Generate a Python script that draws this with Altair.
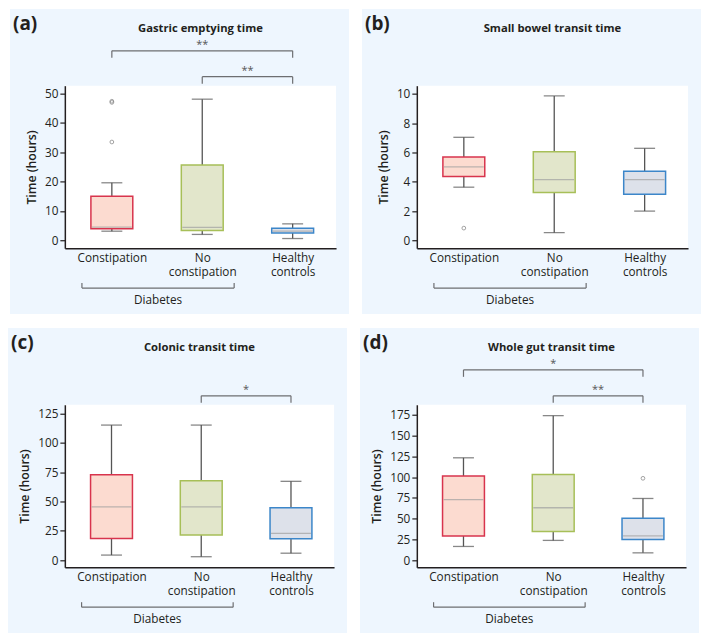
import altair as alt
import pandas as pd

FONT = "Open Sans"
INK = "#231f20"
PANEL_BG = "#eef6fe"

groups = ["Constipation", "No constipation", "Healthy controls"]
x_domain = ["Constipation", "mid1", "No constipation", "mid2", "Healthy controls"]
fills = ["#fcdbd0", "#e2e6cb", "#dde1ea"]
strokes = ["#d8344d", "#a7bf58", "#3c86c9"]

panel_letters = ["(a)", "(b)", "(c)", "(d)"]
panel_titles = ["Gastric emptying time", "Small bowel transit time",
                "Colonic transit time", "Whole gut transit time"]

# (a) Gastric emptying time
a_low = [3.1, 2.0, 0.6]
a_q1 = [3.9, 3.3, 2.5]
a_med = [4.5, 4.4, 3.1]
a_q3 = [15.0, 25.7, 4.1]
a_high = [19.6, 48.1, 5.6]
a_out_group = ["Constipation", "Constipation", "Constipation"]
a_out_value = [47.0, 47.4, 33.5]
a_ticks = [0, 10, 20, 30, 40, 50]
a_domain = [-2.7, 52.7]
a_sig_from = ["Constipation", "No constipation"]
a_sig_to = ["Healthy controls", "Healthy controls"]
a_sig_mid = ["No constipation", "mid2"]
a_sig_label = ["**", "**"]
a_sig_level = ["upper", "lower"]

# (b) Small bowel transit time
b_low = [3.63, 0.53, 2.0]
b_q1 = [4.36, 3.26, 3.15]
b_med = [5.02, 4.14, 4.14]
b_q3 = [5.68, 6.04, 4.71]
b_high = [7.03, 9.85, 6.28]
b_out_group = ["Constipation"]
b_out_value = [0.84]
b_ticks = [0, 2, 4, 6, 8, 10]
b_domain = [-0.53, 10.55]
b_sig_from, b_sig_to, b_sig_mid, b_sig_label, b_sig_level = [], [], [], [], []

# (c) Colonic transit time
c_low = [4.4, 3.0, 6.0]
c_q1 = [18.6, 21.4, 18.4]
c_med = [45.5, 45.5, 22.8]
c_q3 = [72.9, 67.7, 44.7]
c_high = [115.1, 115.1, 67.2]
c_out_group = []
c_out_value = []
c_ticks = [0, 25, 50, 75, 100, 125]
c_domain = [-6.0, 132.4]
c_sig_from = ["No constipation"]
c_sig_to = ["Healthy controls"]
c_sig_mid = ["mid2"]
c_sig_label = ["*"]
c_sig_level = ["lower"]

# (d) Whole gut transit time
d_low = [16.6, 23.9, 8.9]
d_q1 = [29.3, 34.7, 25.1]
d_med = [72.9, 63.2, 29.3]
d_q3 = [101.4, 103.3, 50.5]
d_high = [123.4, 174.2, 74.4]
d_out_group = ["Healthy controls"]
d_out_value = [98.7]
d_ticks = [0, 25, 50, 75, 100, 125, 150, 175]
d_domain = [-8.5, 187.3]
d_sig_from = ["Constipation", "No constipation"]
d_sig_to = ["Healthy controls", "Healthy controls"]
d_sig_mid = ["No constipation", "mid2"]
d_sig_label = ["*", "**"]
d_sig_level = ["upper", "lower"]

PANEL_W = 340
PANEL_H = 306
TOP = 77
PLOT_H = 163


def panel(letter, title, low, q1, med, q3, high, out_g, out_v, ticks, domain,
          sig_from, sig_to, sig_mid, sig_label, sig_level, left):
    W = PANEL_W - left - 13
    H = PLOT_H
    right = PANEL_W - left - W
    bottom = PANEL_H - TOP - H

    xscale = alt.Scale(domain=x_domain, type="point", padding=1.28, align=0.52)
    xaxis = alt.Axis(
        values=groups, title=None, ticks=False, domainColor=INK, domainWidth=1.5,
        labelFont=FONT, labelFontSize=11.8, labelColor=INK, labelPadding=4,
        labelAngle=0, labelLineHeight=14.5, labelLimit=0, zindex=1,
        labelExpr=("datum.value == 'No constipation' ? ['No', 'constipation'] : "
                   "datum.value == 'Healthy controls' ? ['Healthy', 'controls'] : datum.label"),
    )
    yscale = alt.Scale(domain=domain, nice=False, zero=False)
    yaxis = alt.Axis(
        values=ticks, title="Time (hours)", titleFont=FONT, titleFontSize=12.3,
        titleFontWeight=600, titleColor=INK, titlePadding=6,
        labelFont=FONT, labelFontSize=11.8, labelColor=INK, labelPadding=2,
        tickSize=5, tickColor=INK, tickWidth=1.2, domainColor=INK, domainWidth=1.5,
        grid=False, zindex=1,
    )

    def X(field):
        return alt.X(field, type="nominal", scale=xscale, axis=xaxis)

    def Y(field):
        return alt.Y(field, type="quantitative", scale=yscale, axis=yaxis)

    df = pd.DataFrame({"group": groups, "low": low, "q1": q1, "med": med,
                       "q3": q3, "high": high})
    one = pd.DataFrame({"k": [0]})

    bg = alt.Chart(one).mark_rect(color=PANEL_BG).encode(
        x=alt.value(-left), x2=alt.value(W + right),
        y=alt.value(-TOP), y2=alt.value(H + bottom))
    white = alt.Chart(one).mark_rect(color="white").encode(
        x=alt.value(0), x2=alt.value(W), y=alt.value(0), y2=alt.value(H))

    base = alt.Chart(df)
    whisk = base.mark_rule(color="#555555", strokeWidth=1.3).encode(
        x=X("group"), y=Y("low"), y2="high")
    cap_lo = base.mark_tick(size=21, thickness=1.3, color="#555555").encode(
        x=X("group"), y=Y("low"))
    cap_hi = base.mark_tick(size=21, thickness=1.3, color="#555555").encode(
        x=X("group"), y=Y("high"))
    box = base.mark_bar(size=42, strokeWidth=1.5).encode(
        x=X("group"), y=Y("q1"), y2="q3",
        fill=alt.Fill("group:N", scale=alt.Scale(domain=groups, range=fills), legend=None),
        stroke=alt.Stroke("group:N", scale=alt.Scale(domain=groups, range=strokes), legend=None))
    median = base.mark_tick(size=40, thickness=1.3, color="#a0a0a0").encode(
        x=X("group"), y=Y("med"))

    layers = [bg, white, whisk, cap_lo, cap_hi, box, median]

    if out_v:
        odf = pd.DataFrame({"group": out_g, "value": out_v})
        layers.append(alt.Chart(odf).mark_point(
            shape="circle", size=14, filled=False, color="#7a7a7a", strokeWidth=1
        ).encode(x=X("group"), y=Y("value")))

    levels = {"upper": (-35, -41), "lower": (-9, -15)}
    for f, t, m, lab, lev in zip(sig_from, sig_to, sig_mid, sig_label, sig_level):
        yh, ys = levels[lev]
        sdf = pd.DataFrame({"from": [f], "to": [t], "mid": [m], "label": [lab]})
        sc = alt.Chart(sdf)
        layers.append(sc.mark_rule(color="#6d6e71", strokeWidth=1.2).encode(
            x=X("from"), x2="to", y=alt.value(yh)))
        layers.append(sc.mark_rule(color="#6d6e71", strokeWidth=1.2).encode(
            x=X("from"), y=alt.value(yh), y2=alt.value(yh + 7)))
        layers.append(sc.mark_rule(color="#6d6e71", strokeWidth=1.2).encode(
            x=X("to"), y=alt.value(yh), y2=alt.value(yh + 7)))
        layers.append(sc.mark_text(font=FONT, fontSize=11, color="#555555",
                                   baseline="middle").encode(
            x=X("mid"), y=alt.value(ys), text="label:N"))

    ddf = pd.DataFrame({"from": ["Constipation"], "to": ["No constipation"],
                        "mid": ["mid1"], "label": ["Diabetes"]})
    dc = alt.Chart(ddf)
    layers.append(dc.mark_rule(color="#6d6e71", strokeWidth=1.2, xOffset=-30, x2Offset=32).encode(
        x=X("from"), x2="to", y=alt.value(H + 40)))
    layers.append(dc.mark_rule(color="#6d6e71", strokeWidth=1.2, xOffset=-30).encode(
        x=X("from"), y=alt.value(H + 35), y2=alt.value(H + 40)))
    layers.append(dc.mark_rule(color="#6d6e71", strokeWidth=1.2, xOffset=32).encode(
        x=X("to"), y=alt.value(H + 35), y2=alt.value(H + 40)))
    layers.append(dc.mark_text(font=FONT, fontSize=11.8, color=INK, baseline="middle",
                               dx=1).encode(
        x=X("mid"), y=alt.value(H + 52), text="label:N"))

    tdf = pd.DataFrame({"letter": [letter], "title": [title]})
    layers.append(alt.Chart(tdf).mark_text(font=FONT, fontSize=19, fontWeight="bold",
                                           color=INK, align="left", baseline="middle").encode(
        x=alt.value(-left + 3), y=alt.value(-TOP + 15), text="letter:N"))
    layers.append(alt.Chart(tdf).mark_text(font=FONT, fontSize=11.3, fontWeight="bold",
                                           color=INK, align="center", baseline="middle").encode(
        x=alt.value(W / 2), y=alt.value(-TOP + 20), text="title:N"))

    return alt.layer(*layers).properties(width=W, height=H)


pa = panel(panel_letters[0], panel_titles[0], a_low, a_q1, a_med, a_q3, a_high,
           a_out_group, a_out_value, a_ticks, a_domain,
           a_sig_from, a_sig_to, a_sig_mid, a_sig_label, a_sig_level, 55)
pb = panel(panel_letters[1], panel_titles[1], b_low, b_q1, b_med, b_q3, b_high,
           b_out_group, b_out_value, b_ticks, b_domain,
           b_sig_from, b_sig_to, b_sig_mid, b_sig_label, b_sig_level, 55)
pc = panel(panel_letters[2], panel_titles[2], c_low, c_q1, c_med, c_q3, c_high,
           c_out_group, c_out_value, c_ticks, c_domain,
           c_sig_from, c_sig_to, c_sig_mid, c_sig_label, c_sig_level, 57)
pd_ = panel(panel_letters[3], panel_titles[3], d_low, d_q1, d_med, d_q3, d_high,
            d_out_group, d_out_value, d_ticks, d_domain,
            d_sig_from, d_sig_to, d_sig_mid, d_sig_label, d_sig_level, 57)

chart = alt.vconcat(
    alt.hconcat(pa, pb, spacing=13),
    alt.hconcat(pc, pd_, spacing=13),
    spacing=14,
).properties(padding=0, background="white").configure_view(stroke=None)

chart.save("out.html", embed_options={"renderer": "svg", "actions": False})
